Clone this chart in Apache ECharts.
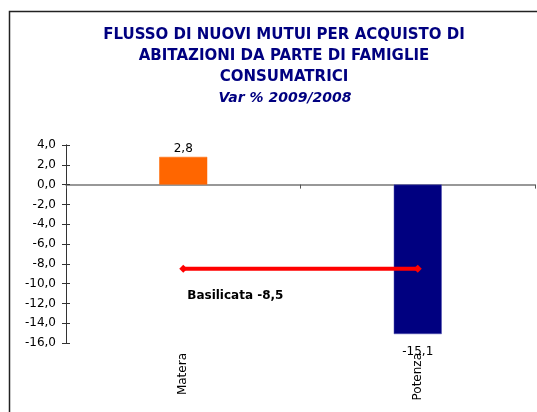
<!DOCTYPE html>
<html><head><meta charset="utf-8">
<script src="https://cdn.jsdelivr.net/npm/echarts@6/dist/echarts.min.js"></script>
<style>html,body{margin:0;padding:0;background:#fff}#c{width:537px;height:412px}</style>
</head><body><div id="c"></div>
<script>
var categories = ['Matera', 'Potenza'];
var values = [2.8, -15.1];
var regionName = 'Basilicata';
var regionLine = [-8.5, -8.5];
var barColors = ['#FF6600', '#000080'];
var titleLines = ['FLUSSO DI NUOVI MUTUI PER ACQUISTO DI', 'ABITAZIONI DA PARTE DI FAMIGLIE', 'CONSUMATRICI'];
var subtitle = 'Var % 2009/2008';

function fmt(v) { return v.toFixed(1).replace('.', ','); }

var chart = echarts.init(document.getElementById('c'), null, {renderer: 'canvas'});
var FONT = 'DejaVu Sans';
var yCommon = {type: 'value', min: -16, max: 4, interval: 2, splitLine: {show: false},
  axisLine: {show: true, lineStyle: {color: '#333', width: 1}}};
var graphics = [
  {type: 'rect', shape: {x: 9.5, y: 11.5, width: 540, height: 410}, style: {fill: 'none', stroke: '#222', lineWidth: 1.5}}
];
titleLines.forEach(function (t, i) {
  graphics.push({type: 'text', x: 284, y: 35 + i * 21,
    style: {text: t, font: 'bold 15px "DejaVu Sans"', fill: '#000080', align: 'center', verticalAlign: 'middle'}});
});
graphics.push({type: 'text', x: 285, y: 98,
  style: {text: subtitle, font: 'italic bold 14px "DejaVu Sans"', fill: '#000080', align: 'center', verticalAlign: 'middle'}});

chart.setOption({
  animation: false,
  backgroundColor: '#fff',
  graphic: graphics,
  grid: {left: 66, top: 145, right: 2, bottom: 69, containLabel: false},
  xAxis: [
    {type: 'category', data: categories, axisLine: {onZero: true, lineStyle: {color: '#777', width: 1.5}},
     axisTick: {show: true, length: 4, inside: false, lineStyle: {color: '#555'}}, axisLabel: {show: false}},
    {type: 'category', data: categories, position: 'bottom', axisLine: {show: false, onZero: false}, axisTick: {show: false},
     axisLabel: {show: true, rotate: 90, margin: 10, fontFamily: FONT, fontSize: 12, color: '#000'}}
  ],
  yAxis: [
    Object.assign({}, yCommon, {axisTick: {show: true, length: 4, inside: false, lineStyle: {color: '#333'}},
      axisLabel: {formatter: fmt, fontFamily: FONT, fontSize: 12, color: '#000', margin: 10}}),
    Object.assign({}, yCommon, {position: 'left', axisTick: {show: true, length: 4, inside: true, lineStyle: {color: '#333'}},
      axisLabel: {show: false}})
  ],
  series: [
    {type: 'bar', xAxisIndex: 0, yAxisIndex: 0, barWidth: 48,
     data: values.map(function (v, i) {
       return {value: v, itemStyle: {color: barColors[i], borderColor: i === 1 ? '#5050b0' : barColors[i], borderWidth: 0.5},
         label: {show: true, position: v >= 0 ? 'top' : 'bottom', distance: v >= 0 ? 2 : 12,
           formatter: function (p) { return fmt(p.value); }, fontFamily: FONT, fontSize: 12, color: '#000'}};
     })},
    {type: 'line', xAxisIndex: 0, yAxisIndex: 0, symbol: 'diamond', symbolSize: 8, z: 5,
     lineStyle: {color: '#FF0000', width: 4}, itemStyle: {color: '#FF0000'},
     data: regionLine.map(function (v, i) {
       return {value: v, label: {show: i === 0, position: [8, 25], align: 'left', verticalAlign: 'top',
         formatter: function (p) { return regionName + ' ' + fmt(p.value); },
         fontFamily: FONT, fontSize: 12, fontWeight: 'bold', color: '#000'}};
     })}
  ]
});
</script></body></html>
